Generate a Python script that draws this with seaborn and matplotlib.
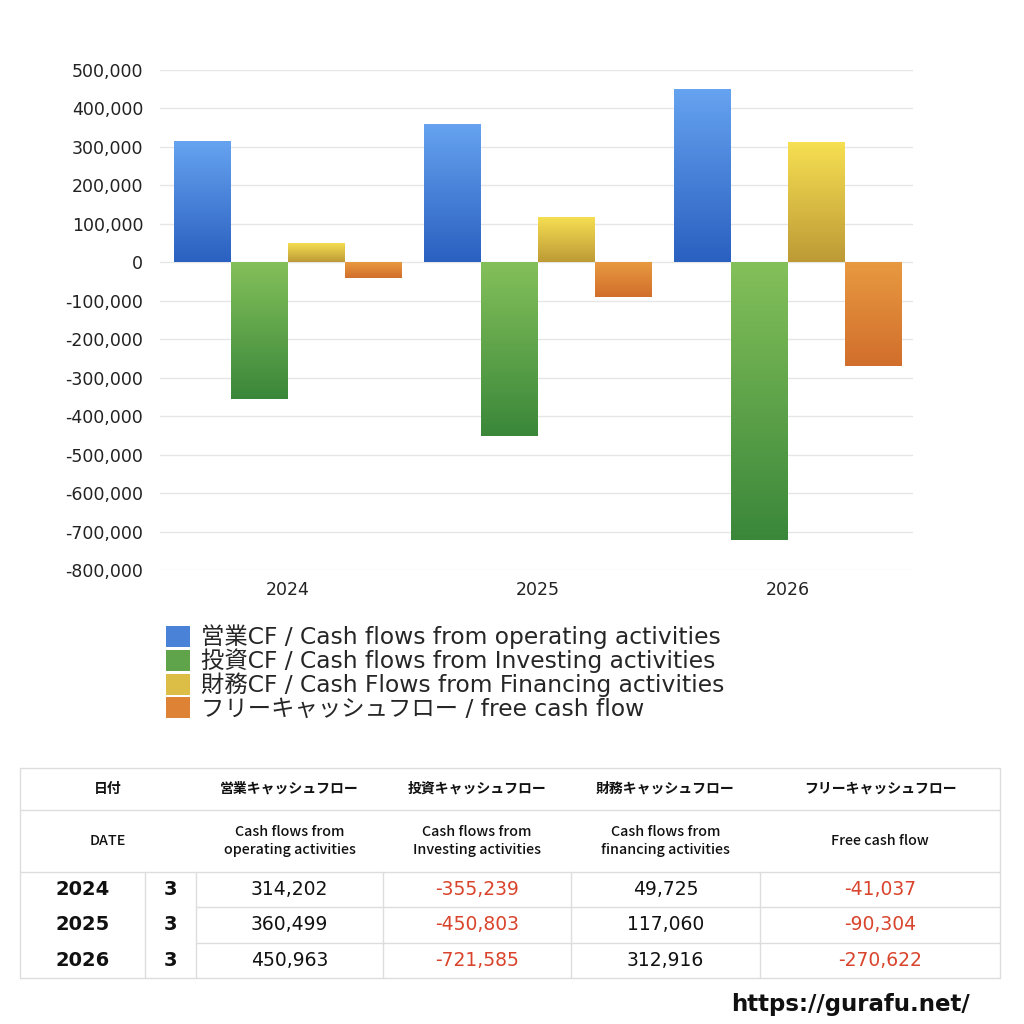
import numpy as np
import pandas as pd
import matplotlib
matplotlib.use("Agg")
import matplotlib.pyplot as plt
from matplotlib.colors import LinearSegmentedColormap
from matplotlib.patches import Patch
from matplotlib.ticker import FuncFormatter
import seaborn as sns

years = ["2024", "2025", "2026"]
months = ["3", "3", "3"]
operating_cf = [314202, 360499, 450963]
investing_cf = [-355239, -450803, -721585]
financing_cf = [49725, 117060, 312916]
free_cf = [-41037, -90304, -270622]

series_labels = [
    "営業CF / Cash flows from operating activities",
    "投資CF / Cash flows from Investing activities",
    "財務CF / Cash Flows from Financing activities",
    "フリーキャッシュフロー / free cash flow",
]
header_jp = ["日付", "営業キャッシュフロー", "投資キャッシュフロー", "財務キャッシュフロー", "フリーキャッシュフロー"]
header_en = ["DATE", "Cash flows from\noperating activities", "Cash flows from\nInvesting activities",
             "Cash flows from\nfinancing activities", "Free cash flow"]

# gradient (top, bottom) per series
grad_colors = [("#66a3f0", "#2a60c0"), ("#84c05a", "#3a873a"),
               ("#f7e052", "#bd9a36"), ("#e89a40", "#d16e2c")]
mid_colors = ["#4a82d8", "#5fa34a", "#dcbd45", "#de8236"]

df = pd.DataFrame({
    "year": years * 4,
    "value": operating_cf + investing_cf + financing_cf + free_cf,
    "series": [s for s in series_labels for _ in years],
})

sns.set_theme(style="white")
plt.rcParams["font.family"] = ["DejaVu Sans", "Noto Sans CJK JP"]

fig = plt.figure(figsize=(10.24, 10.24), dpi=100)
ax = fig.add_axes([160 / 1024, 1 - 570 / 1024, 753 / 1024, 500 / 1024])

sns.barplot(data=df, x="year", y="value", hue="series", hue_order=series_labels,
            palette=mid_colors, width=0.91, gap=0, errorbar=None, legend=False, ax=ax)

ylim = (-800000, 500000)
xlim = (-0.512, 2.5)
grad = np.linspace(0, 1, 256).reshape(-1, 1)
for cont, (ctop, cbot) in zip(ax.containers, grad_colors):
    cmap = LinearSegmentedColormap.from_list("g", [ctop, cbot])
    for bar in cont:
        x0, y0 = bar.get_x(), bar.get_y()
        w, h = bar.get_width(), bar.get_height()
        top, bot = max(y0, y0 + h), min(y0, y0 + h)
        im = ax.imshow(grad, extent=[x0, x0 + w, bot, top], aspect="auto", cmap=cmap,
                       origin="upper", zorder=3, interpolation="bilinear")
        im.set_clip_path(bar)
        bar.set_edgecolor("none")

ax.set_xlim(*xlim)
ax.set_ylim(*ylim)
ax.set_yticks(np.arange(-800000, 500001, 100000))
ax.yaxis.set_major_formatter(FuncFormatter(lambda v, p: f"{int(v):,}"))
ax.yaxis.grid(True, color="#e6e6e6", linewidth=1)
ax.set_axisbelow(True)
for s in ax.spines.values():
    s.set_visible(False)
ax.tick_params(axis="both", length=0, labelsize=12.5, colors="#222222")
ax.tick_params(axis="x", pad=8)
ax.tick_params(axis="y", pad=12)
ax.set_xlabel("")
ax.set_ylabel("")

handles = [Patch(facecolor=c, edgecolor="none") for c in mid_colors]
fig.legend(handles, series_labels, loc="upper left", bbox_to_anchor=(157 / 1024, 1 - 615 / 1024),
           frameon=False, fontsize=16.8, handlelength=1.0, handleheight=1.0, handletextpad=0.5,
           labelspacing=-0.02, borderaxespad=0)

# table below the chart
tax = fig.add_axes([0, 0, 1, 1], facecolor="none")
tax.set_xlim(0, 1024)
tax.set_ylim(1024, 0)
tax.axis("off")
col_edges = [20, 145, 196, 383, 571, 760, 1000]
row_edges = [768, 810, 872, 907, 943, 978]
line_kw = dict(color="#dddddd", linewidth=1)

for y in row_edges[:3] + [row_edges[-1]]:
    tax.plot([col_edges[0], col_edges[-1]], [y, y], **line_kw)
for y in row_edges[3:5]:
    tax.plot([col_edges[2], col_edges[-1]], [y, y], **line_kw)
tax.plot([col_edges[0], col_edges[0]], [row_edges[0], row_edges[-1]], **line_kw)
tax.plot([col_edges[-1], col_edges[-1]], [row_edges[0], row_edges[-1]], **line_kw)
for x in col_edges[1:-1]:
    tax.plot([x, x], [row_edges[2], row_edges[-1]], **line_kw)

centers = [(col_edges[0] + col_edges[2]) / 2] + [(col_edges[i] + col_edges[i + 1]) / 2 for i in range(2, 6)]
for cx, jp, en in zip(centers, header_jp, header_en):
    tax.text(cx, (row_edges[0] + row_edges[1]) / 2, jp, ha="center", va="center",
             fontsize=10, fontweight="bold", color="#111111")
    tax.text(cx, (row_edges[1] + row_edges[2]) / 2, en, ha="center", va="center",
             fontsize=10.3, color="#111111", linespacing=1.35,
             family=["Noto Sans CJK JP"], fontweight="medium")

cols = [operating_cf, investing_cf, financing_cf, free_cf]
for i, (yr, mo) in enumerate(zip(years, months)):
    cy = (row_edges[2 + i] + row_edges[3 + i]) / 2
    tax.text(83, cy, yr, ha="center", va="center", fontsize=14, fontweight="bold", color="#111111")
    tax.text((col_edges[1] + col_edges[2]) / 2, cy, mo, ha="center", va="center",
             fontsize=14, fontweight="bold", color="#111111")
    for j, vals in enumerate(cols):
        v = vals[i]
        tax.text(centers[j + 1], cy, f"{v:,}", ha="center", va="center", fontsize=13.5,
                 color="#d9442c" if v < 0 else "#111111")

tax.text(970, 1004, "https://gurafu.net/", ha="right", va="center", fontsize=16.5,
         fontweight="bold", color="#111111")

fig.savefig("out.png", dpi=100, facecolor="white")
